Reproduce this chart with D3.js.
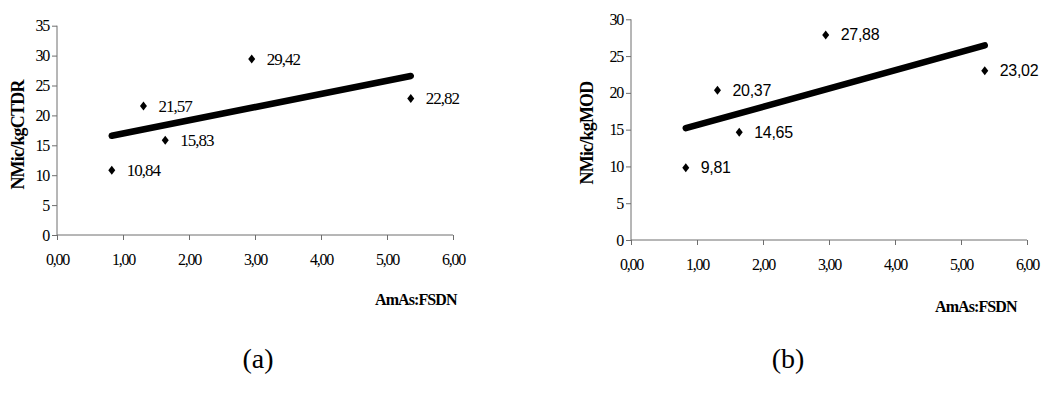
<!DOCTYPE html>
<html>
<head>
<meta charset="utf-8">
<script src="https://cdn.jsdelivr.net/npm/d3@7"></script>
<style>
  body { margin: 0; background: #fff; }
  svg { display: block; }
</style>
</head>
<body>
<script>
// data
const amasFsdn = [0.83, 1.31, 1.64, 2.95, 5.36];
const nmicCtdr = [10.84, 21.57, 15.83, 29.42, 22.82];
const nmicMod = [9.81, 20.37, 14.65, 27.88, 23.02];
const xTicks = [0, 1, 2, 3, 4, 5, 6];
const ctdrTicks = [0, 5, 10, 15, 20, 25, 30, 35];
const modTicks = [0, 5, 10, 15, 20, 25, 30];

const W = 1052, H = 398;
const svg = d3.select("body").append("svg").attr("width", W).attr("height", H);

const comma = v => d3.format(".2f")(v).replace(".", ",");

// least squares line through the points
const fitLine = (xs, ys) => {
  const mx = d3.mean(xs), my = d3.mean(ys);
  let sxy = 0, sxx = 0;
  xs.forEach((x, i) => { sxy += (x - mx) * (ys[i] - my); sxx += (x - mx) ** 2; });
  const b = sxy / sxx;
  const a = my - b * mx;
  const x0 = d3.min(xs), x1 = d3.max(xs);
  return [[x0, a + b * x0], [x1, a + b * x1]];
};

const styleAxis = a => {
  a.selectAll("path, line").attr("stroke", "#6e6e6e");
  a.selectAll("text")
    .attr("fill", "#000")
    .style("font-family", "Liberation Serif, serif")
    .style("font-size", "16px")
    .style("letter-spacing", "-1.2px");
};

const drawPanel = (p) => {
  const xScale = d3.scaleLinear().domain([0, 6]).range([p.left, p.right]);
  const yScale = d3.scaleLinear().domain([0, d3.max(p.yTicks)]).range([p.bottom, p.top]);
  const g = svg.append("g");

  g.append("g")
    .attr("transform", `translate(0, ${p.bottom})`)
    .call(d3.axisBottom(xScale).tickValues(xTicks).tickSize(5).tickPadding(14).tickFormat(comma))
    .call(a => a.select(".domain").attr("d", `M${p.left},0H${p.right}`))
    .call(styleAxis);

  g.append("g")
    .attr("transform", `translate(${p.left}, 0)`)
    .call(d3.axisLeft(yScale).tickValues(p.yTicks).tickSize(5).tickPadding(3).tickFormat(d3.format("d")))
    .call(a => a.select(".domain").attr("d", `M0,${p.top}V${p.bottom}`))
    .call(styleAxis);

  // trend line
  const fit = fitLine(amasFsdn, p.values);
  g.append("path")
    .attr("d", d3.line().x(d => xScale(d[0])).y(d => yScale(d[1]))(fit))
    .attr("stroke", "#000")
    .attr("stroke-width", 6.5)
    .attr("stroke-linecap", "round")
    .attr("fill", "none");

  // diamond markers
  g.selectAll(".pt")
    .data(p.values)
    .enter()
    .append("path")
    .attr("class", "pt")
    .attr("d", "M0,-4.5L3.5,0L0,4.5L-3.5,0Z")
    .attr("transform", (d, i) => `translate(${xScale(amasFsdn[i])}, ${yScale(d)})`)
    .attr("fill", "#000");

  g.selectAll(".lbl")
    .data(p.values)
    .enter()
    .append("text")
    .attr("class", "lbl")
    .attr("x", (d, i) => xScale(amasFsdn[i]) + 15)
    .attr("y", d => yScale(d))
    .attr("dy", "0.35em")
    .style("font-family", p.labelFont)
    .style("font-size", p.labelSize)
    .style("letter-spacing", p.labelSpacing)
    .text(d => comma(d));

  // axis titles
  g.append("text")
    .attr("transform", `translate(${p.yTitleX}, ${p.yTitleY}) rotate(-90)`)
    .attr("text-anchor", "middle")
    .attr("dy", "0.35em")
    .style("font-family", "Liberation Serif, serif")
    .style("font-weight", "bold")
    .style("font-size", "18px")
    .style("letter-spacing", "-0.8px")
    .text(p.yTitle);

  g.append("text")
    .attr("x", p.xTitleX)
    .attr("y", p.xTitleY)
    .attr("dy", "0.35em")
    .style("font-family", "Liberation Serif, serif")
    .style("font-weight", "bold")
    .style("font-size", "16px")
    .style("letter-spacing", "-0.9px")
    .text("AmAs:FSDN");

  svg.append("text")
    .attr("x", p.capX)
    .attr("y", 368)
    .attr("text-anchor", "middle")
    .style("font-family", "Liberation Serif, serif")
    .style("font-size", "28px")
    .text(p.caption);
};

drawPanel({
  left: 57, right: 453, top: 25.7, bottom: 235,
  yTicks: ctdrTicks, values: nmicCtdr,
  labelFont: "Liberation Serif, serif", labelSize: "17px", labelSpacing: "-1px",
  yTitle: "NMic/kgCTDR", yTitleX: 18, yTitleY: 135,
  xTitleX: 375, xTitleY: 299, caption: "(a)", capX: 258
});

drawPanel({
  left: 631, right: 1027, top: 19.3, bottom: 240,
  yTicks: modTicks, values: nmicMod,
  labelFont: "Liberation Sans, Arial, sans-serif", labelSize: "16px", labelSpacing: "-0.3px",
  yTitle: "NMic/kgMOD", yTitleX: 587, yTitleY: 133,
  xTitleX: 935, xTitleY: 306, caption: "(b)", capX: 788
});
</script>
</body>
</html>
